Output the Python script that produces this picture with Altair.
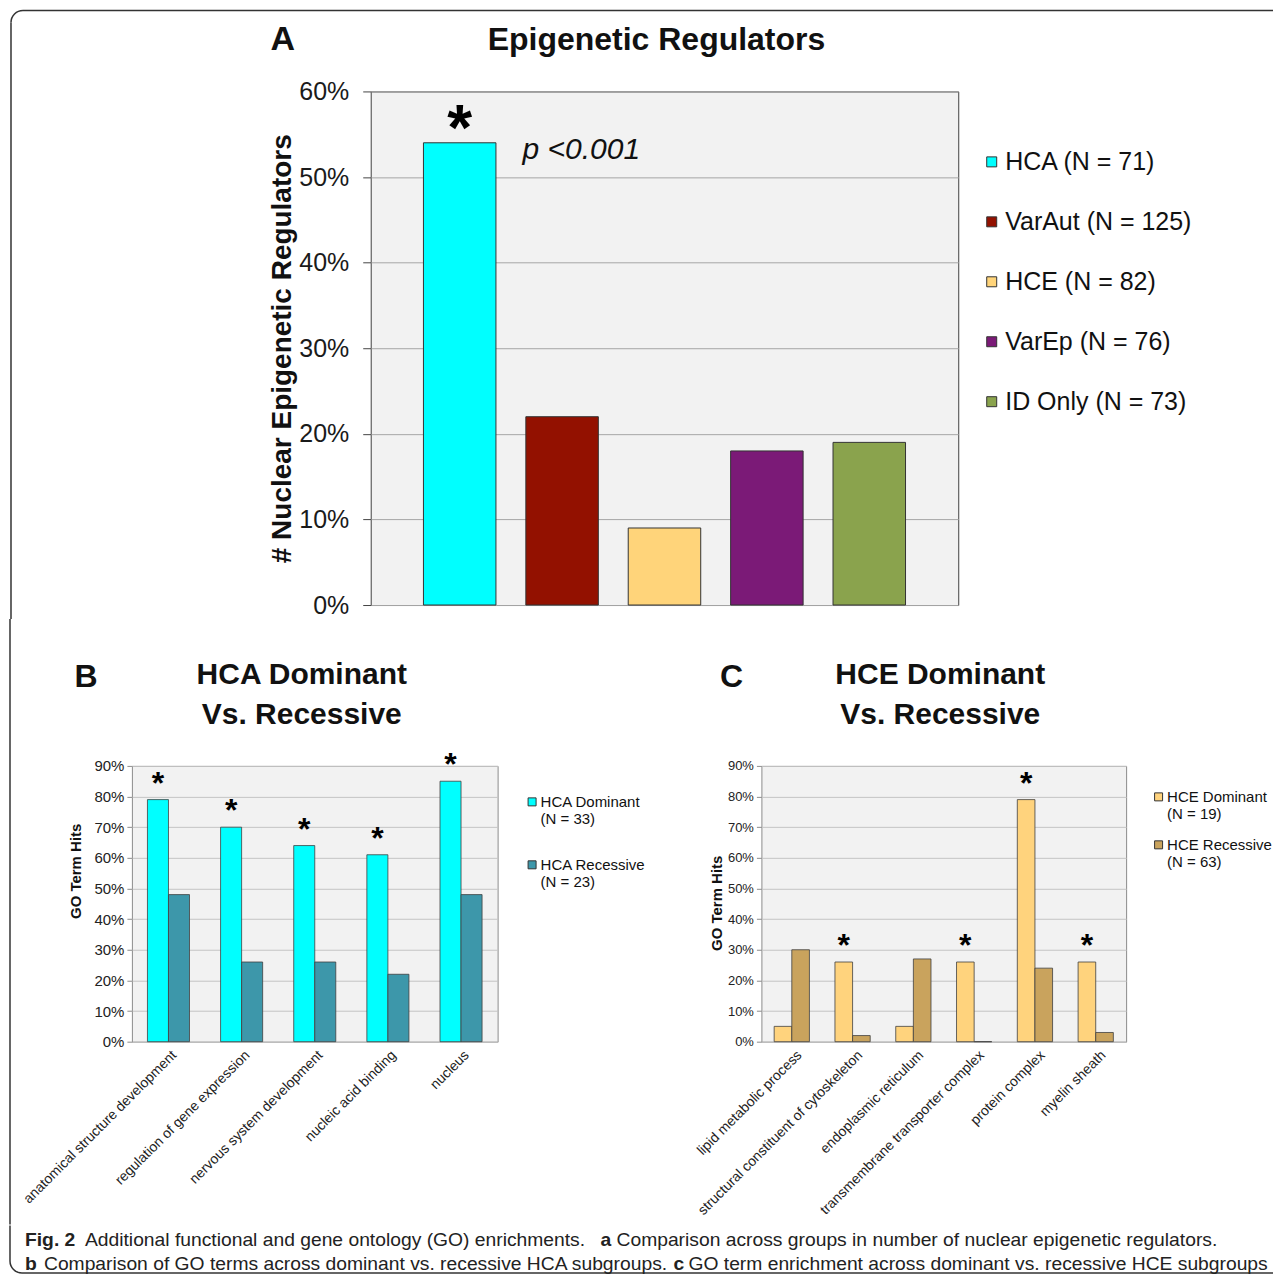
import math
import altair as alt
import pandas as pd

FONT = "Liberation Sans"
FRAME = "#333333"
ONE = pd.DataFrame({"k": [0]})

# ---------------- Panel A data ----------------
a_groups = ["HCA (N = 71)", "VarAut (N = 125)", "HCE (N = 82)", "VarEp (N = 76)", "ID Only (N = 73)"]
a_values = [54, 22, 9, 18, 19]
a_colors = ["#00ffff", "#931100", "#ffd47a", "#7b1a77", "#8aa34d"]
a_stars = ["*", "", "", "", ""]
a_ticks = [0, 10, 20, 30, 40, 50, 60]

# ---------------- Panel B data ----------------
b_terms = ["anatomical structure development", "regulation of gene expression",
           "nervous system development", "nucleic acid binding", "nucleus"]
b_series = ["HCA Dominant|(N = 33)", "HCA Recessive|(N = 23)"]
b_dominant = [79, 70, 64, 61, 85]
b_recessive = [48, 26, 26, 22, 48]
b_colors = ["#00ffff", "#3d97aa"]
b_stars = ["*", "*", "*", "*", "*"]

# ---------------- Panel C data ----------------
c_terms = ["lipid metabolic process", "structural constituent of cytoskeleton",
           "endoplasmic reticulum", "transmembrane transporter complex",
           "protein complex", "myelin sheath"]
c_series = ["HCE Dominant|(N = 19)", "HCE Recessive|(N = 63)"]
c_dominant = [5, 26, 5, 26, 79, 26]
c_recessive = [30, 2, 27, 0, 24, 3]
c_colors = ["#ffd37d", "#c9a35d"]
c_stars = ["", "*", "", "*", "*", "*"]

go_ticks = [0, 10, 20, 30, 40, 50, 60, 70, 80, 90]

# ---------------- Caption ----------------
cap1 = ["Fig. 2", "Additional functional and gene ontology (GO) enrichments.", "a",
        "Comparison across groups in number of nuclear epigenetic regulators."]
cap2 = ["b", "Comparison of GO terms across dominant vs. recessive HCA subgroups.", "c",
        "GO term enrichment across dominant vs. recessive HCE subgroups"]


def label(text, x, y, size, weight="normal", align="center", style="normal",
          color="#111111", baseline="middle"):
    return alt.Chart(ONE).mark_text(
        text=text, fontSize=size, fontWeight=weight, fontStyle=style,
        align=align, baseline=baseline, color=color, font=FONT
    ).encode(x=alt.value(x), y=alt.value(y))


def vline(x, y1, y2):
    # frame segment drawn as a thin filled rect (exact bounds, no stroke expansion)
    return alt.Chart(ONE).mark_rect(color=FRAME).encode(
        x=alt.value(x - 0.75), x2=alt.value(x + 0.75), y=alt.value(y1), y2=alt.value(y2))


def hline(x1, x2, y):
    return alt.Chart(ONE).mark_rect(color=FRAME).encode(
        x=alt.value(x1), x2=alt.value(x2), y=alt.value(y - 0.75), y2=alt.value(y + 0.75))


def helper(x, y1, y2):
    # invisible layout guide
    return alt.Chart(ONE).mark_rule(strokeOpacity=0).encode(
        x=alt.value(x), y=alt.value(y1), y2=alt.value(y2))


def corner(cx, cy, t1, t2):
    return alt.Chart(ONE).mark_arc(radius=12.75, radius2=11.25, theta=t1, theta2=t2,
                                   color=FRAME).encode(x=alt.value(cx), y=alt.value(cy))


# ================= Panel A (plot origin at page 370, 91) =================
a_df = pd.DataFrame({"group": a_groups, "value": a_values, "star": a_stars})
a_x = alt.X("group:N", sort=a_groups,
            scale=alt.Scale(paddingInner=0.292, paddingOuter=0.515), axis=None)
a_y = alt.Y("value:Q", scale=alt.Scale(domain=[0, 60]),
            axis=alt.Axis(values=a_ticks, labelExpr="datum.value + '%'",
                          labelFontSize=25, labelColor="#1a1a1a", labelPadding=14,
                          tickSize=8, tickColor="#444444", domain=False, grid=True,
                          gridColor="#a6a6a6", title="# Nuclear Epigenetic Regulators",
                          titleFontSize=28, titleFontWeight="bold", titleColor="#111111",
                          titleX=-88, titleY=257, titleAngle=270, titleAlign="center",
                          titleBaseline="middle"))

a_bars = alt.Chart(a_df).mark_bar(stroke="#333333", strokeWidth=1).encode(
    x=a_x, y=a_y,
    color=alt.Color("group:N", scale=alt.Scale(domain=a_groups, range=a_colors),
                    legend=alt.Legend(title=None, orient="none", legendX=609, legendY=58,
                                      symbolType="square", symbolSize=100,
                                      symbolStrokeColor="#333333", symbolStrokeWidth=1,
                                      labelFontSize=25, labelColor="#111111", labelOffset=1,
                                      rowPadding=34, padding=0, labelLimit=400)))
a_star_layer = alt.Chart(a_df).mark_text(fontSize=64, fontWeight="bold", baseline="alphabetic",
                                         dy=7, color="#000000").encode(
    x=a_x, y=a_y, text="star:N")

panel_a = alt.layer(
    hline(-348, 930, -81),
    corner(-348, -69, 1.5 * math.pi, 2 * math.pi),
    vline(-360, -69, 528),
    a_bars, a_star_layer,
    label("p <0.001", 152, 59, 30, style="italic", align="left"),
    label("Epigenetic Regulators", 286, -51, 32, weight="bold"),
    label("A", -88, -51, 34, weight="bold"),
).properties(width=588, height=514,
             view=alt.ViewBackground(fill="#f2f2f2", stroke="#404040", strokeWidth=1))

spacer_a = alt.layer(helper(0, 0, 1)).properties(
    width=1, height=1, view=alt.ViewBackground(stroke="transparent", strokeWidth=0))


# ================= Panels B and C =================
def go_panel(terms, series, dom, rec, colors, stars, x_pad, letter, titles, title_x, title_y,
             ylab_size, ytitle_x, ytitle_y, legend_x, legend_y, row_pad, lab_off, width,
             extra=()):
    n = len(terms)
    df = pd.DataFrame({"term": terms + terms,
                       "series": [series[0]] * n + [series[1]] * n,
                       "value": dom + rec})
    sdf = pd.DataFrame({"term": terms, "series": [series[0]] * n, "value": dom, "star": stars})
    x = alt.X("term:N", sort=terms, scale=alt.Scale(paddingInner=x_pad, paddingOuter=x_pad / 2),
              axis=alt.Axis(title=None, labelAngle=315, labelAlign="right", labelBaseline="top",
                            labelFontSize=14, labelColor="#222222", labelPadding=6,
                            labelOffset=lab_off, ticks=False, domain=False, labelLimit=400,
                            grid=False))
    y = alt.Y("value:Q", scale=alt.Scale(domain=[0, 90]),
              axis=alt.Axis(values=go_ticks, labelExpr="datum.value + '%'",
                            labelFontSize=ylab_size, labelColor="#222222", labelPadding=3,
                            tickSize=5, tickColor="#8c8c8c", domain=False, grid=True,
                            gridColor="#c4c4c4", title="GO Term Hits", titleFontSize=15,
                            titleFontWeight="bold", titleColor="#111111", titleX=ytitle_x,
                            titleY=ytitle_y, titleAngle=270, titleAlign="center",
                            titleBaseline="middle"))
    xo = alt.XOffset("series:N", sort=series,
                     scale=alt.Scale(domain=series, paddingInner=0, paddingOuter=0))
    bars = alt.Chart(df).mark_bar(stroke="#404040", strokeWidth=0.8).encode(
        x=x, xOffset=xo, y=y,
        color=alt.Color("series:N", scale=alt.Scale(domain=series, range=colors),
                        legend=alt.Legend(title=None, orient="none", legendX=legend_x,
                                          legendY=legend_y,
                                          symbolType="M-1,0.625H1V2.625H-1Z", symbolSize=64,
                                          symbolStrokeColor="#333333", symbolStrokeWidth=1,
                                          labelExpr="split(datum.label, '|')",
                                          labelBaseline="top", labelFontSize=15,
                                          labelColor="#111111", labelOffset=1,
                                          rowPadding=row_pad, padding=0, labelLimit=300)))
    star_layer = alt.Chart(sdf).mark_text(fontSize=32, fontWeight="bold", baseline="alphabetic",
                                          dy=-6, color="#000000").encode(
        x=x, xOffset=xo, y=y, text="star:N")
    layers = list(extra) + [
        bars, star_layer,
        label(titles[0], title_x, title_y[0], 30, weight="bold"),
        label(titles[1], title_x, title_y[1], 30, weight="bold"),
        label(letter[0], letter[1], letter[2], 32, weight="bold"),
    ]
    return alt.layer(*layers).properties(
        width=width, height=276,
        view=alt.ViewBackground(fill="#f2f2f2", stroke="#8c8c8c", strokeWidth=1))


# panel B plot origin at page (132, 766); panel C at page (762, 766)
panel_b = go_panel(b_terms, b_series, b_dominant, b_recessive, b_colors, b_stars, 0.425,
                   ("B", -46, -89), ("HCA Dominant", "Vs. Recessive"), 170, (-91, -51),
                   15, -56, 105, 393, 22, 23, 1, 366,
                   extra=[vline(-122, -147, 459), helper(558, 0, 10)])

panel_c = go_panel(c_terms, c_series, c_dominant, c_recessive, c_colors, c_stars, 0.42,
                   ("C", -30, -89), ("HCE Dominant", "Vs. Recessive"), 179, (-91, -51),
                   13, -45, 137, 390, 17, 8, 3, 365,
                   extra=[helper(-70, 0, 10)])

# ================= Caption row (origin at page 132, ~1223) =================
CAPC = "#222222"
CS = 19.3
caption = alt.layer(
    vline(-122, 0, 35.5),
    corner(-110, 35.5, math.pi, 1.5 * math.pi),
    hline(-110, 1168, 47.5),
    label(cap1[0], -107, 14, CS, weight="bold", align="left", color=CAPC),
    label(cap1[1], -47, 14, CS, align="left", color=CAPC),
    label(cap1[2], 469, 14, CS, weight="bold", align="left", color=CAPC),
    label(cap1[3], 485, 14, CS, align="left", color=CAPC),
    label(cap2[0], -107, 38, CS, weight="bold", align="left", color=CAPC),
    label(cap2[1], -88, 38, CS, align="left", color=CAPC),
    label(cap2[2], 542, 38, CS, weight="bold", align="left", color=CAPC),
    label(cap2[3], 557, 38, CS, align="left", color=CAPC),
).properties(width=1, height=1, view=alt.ViewBackground(stroke="transparent", strokeWidth=0))

top_row = alt.hconcat(spacer_a, panel_a, spacing=-124).resolve_scale(
    color="independent").resolve_legend(color="independent")

bottom_row = alt.hconcat(panel_b, panel_c, spacing=0).resolve_scale(
    color="independent", x="independent", y="independent", xOffset="independent"
).resolve_legend(color="independent")

chart = alt.vconcat(top_row, bottom_row, caption, spacing=-2).properties(
    autosize=alt.AutoSizeParams(type="none"),
    padding={"left": 124, "top": 83, "right": 1142, "bottom": 1183},
).resolve_scale(
    color="independent", x="independent", y="independent", xOffset="independent"
).resolve_legend(color="independent").configure(font=FONT, background="white")

chart.save("out.html", embed_options={"renderer": "svg", "actions": False})
